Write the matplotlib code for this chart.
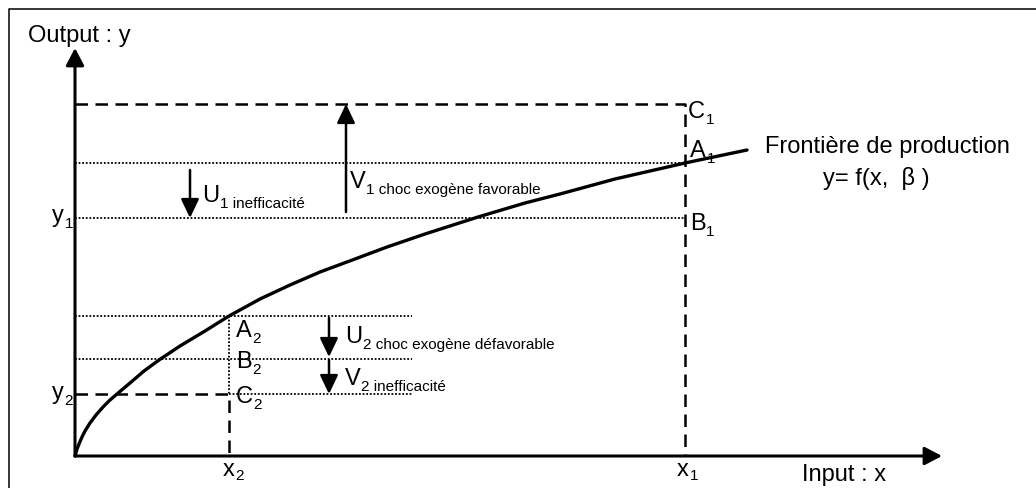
import matplotlib.pyplot as plt

plt.rcParams['font.family'] = ['Liberation Sans', 'DejaVu Sans']

# points (origin at the axes corner, one unit = one pixel)
x2, x1 = 154, 610
y_C1, y_A1, y1 = 352, 293, 238
y_A2, y_B2, y2 = 140, 97, 62
x_axis_end, y_axis_end = 867, 408
dotted_end_low = 337

frontier_x = [0, 2, 4, 7, 10, 15, 21, 28, 35, 42, 55, 69, 84, 105, 130, 154,
              185, 215, 245, 280, 312, 350, 403, 450, 485, 540, 610, 672]
frontier_y = [0, 7, 12, 19, 25, 33, 41, 49, 56, 62, 73, 85, 96, 110, 125, 140,
              157, 171, 184, 197, 209, 222, 239, 253, 262, 277, 293, 306]

# (x, y_from, y_to) of the shock / inefficiency arrows
arrows = {
    'U1': (115, 286, y1),
    'V1': (271, 244, y_C1),
    'U2': (254, 138, y_B2 + 2),
    'V2': (254, 96, y2),
}

# main letter, subscript, left x, baseline y, subscript drop (px)
labels = [
    ('y', '1', -23, 234, 4),
    ('y', '2', -23, 57, 4),
    ('x', '2', 148, -20, 3),
    ('x', '1', 602, -20, 3),
    ('C', '1', 613, 338, 4),
    ('A', '1', 615, 299, 4),
    ('B', '1', 615, 226, 4),
    ('A', '2', 161, 119, 4),
    ('B', '2', 161, 88, 4),
    ('C', '2', 161, 53, 4),
    ('U', '1 inefficacité', 127, 254, 4),
    ('V', '1 choc exogène favorable', 275, 268, 4),
    ('U', '2 choc exogène défavorable', 270, 113, 4),
    ('V', '2 inefficacité', 270, 71, 4),
]

fig = plt.figure(figsize=(10.36, 4.88), dpi=100)
ax = fig.add_axes([0, 0, 1, 1])
ax.set_xlim(-75, 961)
ax.set_ylim(-32, 456)
ax.axis('off')

# frame (only left and top edges fall inside the picture)
ax.plot([-66, -66, 970], [-40, 447, 447], color='black', lw=1.1)

# axes with arrow heads
axis_style = dict(arrowstyle='-|>,head_length=1.05,head_width=0.55', lw=2.2,
                  color='black', shrinkA=0, shrinkB=0, mutation_scale=10)
ax.annotate('', xy=(0, y_axis_end), xytext=(0, 0), arrowprops=axis_style)
ax.annotate('', xy=(x_axis_end, 0), xytext=(0, 0), arrowprops=axis_style)

dash = dict(color='black', lw=1.8, ls=(0, (5, 3)))
dot = dict(color='black', lw=1.3, ls=(0, (1, 1)))

ax.plot([0, x1, x1], [y_C1, y_C1, 0], **dash)
ax.plot([0, x2, x2], [y2, y2, 0], **dash)
ax.plot([0, x1], [y_A1, y_A1], **dot)
ax.plot([0, x1], [y1, y1], **dot)
ax.plot([0, dotted_end_low], [y_A2, y_A2], **dot)
ax.plot([0, dotted_end_low], [y_B2, y_B2], **dot)
ax.plot([x2, dotted_end_low], [y2, y2], **dot)
ax.plot([x2, x2], [y_A2, y2], **dot)

ax.plot(frontier_x, frontier_y, color='black', lw=2.4,
        solid_capstyle='round', solid_joinstyle='round')

arrow_style = dict(arrowstyle='-|>,head_length=1.15,head_width=0.55', lw=1.8,
                   color='black', shrinkA=0, shrinkB=0, mutation_scale=10)
for name, (ax_x, y_from, y_to) in arrows.items():
    ax.annotate('', xy=(ax_x, y_to), xytext=(ax_x, y_from), arrowprops=arrow_style)

renderer = fig.canvas.get_renderer()
for main, sub, lx, ly, drop in labels:
    t = ax.text(lx, ly, main, fontsize=17, ha='left', va='baseline')
    w = t.get_window_extent(renderer).width * 72 / fig.dpi
    ax.annotate(sub, xy=(lx, ly), xytext=(w + 0.5, -drop), textcoords='offset points',
                fontsize=11, ha='left', va='baseline')

ax.text(-47, 414, 'Output : y', fontsize=17, ha='left', va='baseline')
ax.text(727, -25, 'Input : x', fontsize=17, ha='left', va='baseline')
ax.text(690, 303, 'Frontière de production', fontsize=17, ha='left', va='baseline')
ax.text(801, 271, 'y= f(x,  β )', fontsize=17, ha='center', va='baseline')

fig.savefig('out.png', dpi=100)
